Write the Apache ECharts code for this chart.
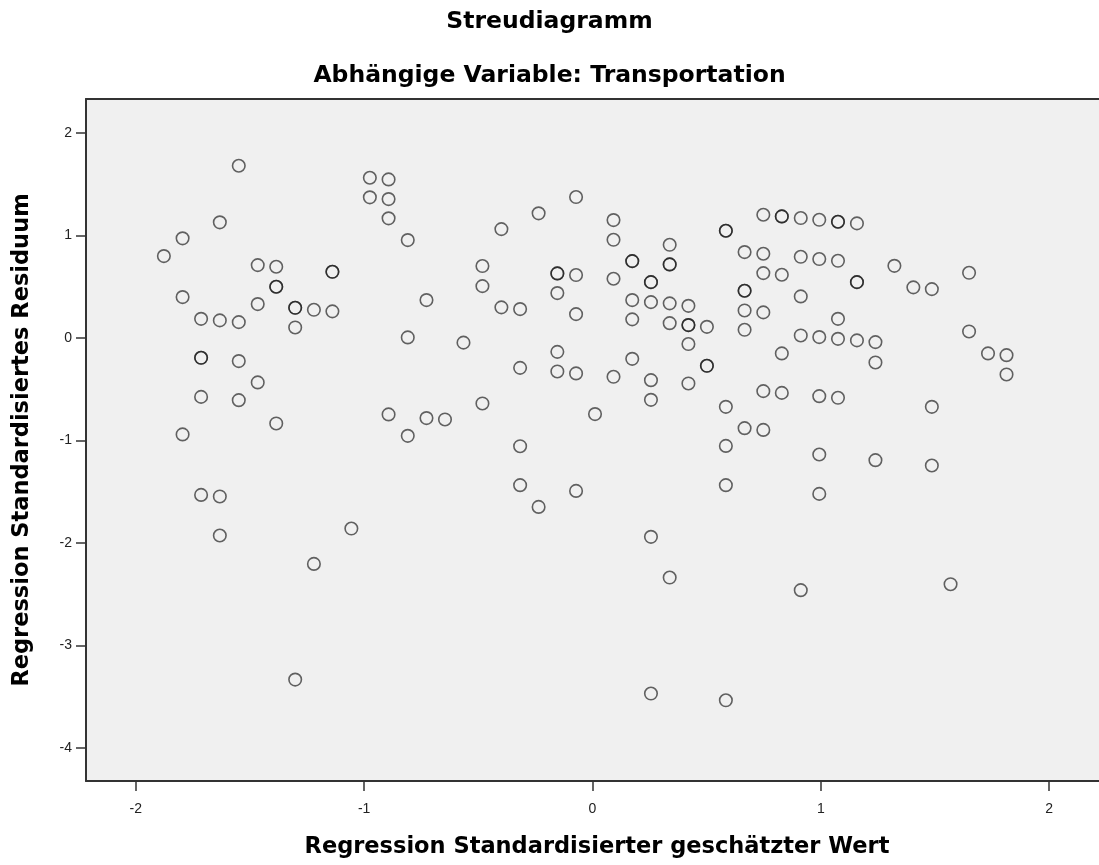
<!DOCTYPE html>
<html>
<head>
<meta charset="utf-8">
<script src="https://cdn.jsdelivr.net/npm/echarts@6/dist/echarts.min.js"></script>
<style>
  html, body { margin: 0; padding: 0; background: #ffffff; overflow: hidden; }
  #chart { width: 1099px; height: 865px; }
</style>
</head>
<body>
<div id="chart"></div>
<script>
// Data (standardized predicted value, standardized residual)
const predicted = [
  -1.549, -0.975, -0.893, -0.975, -0.893, -0.893, -0.809, -1.632, -1.795, -1.877,
  -1.466, -1.385, -1.139, -1.139, -1.385, -1.385, -1.795, -1.466, -1.302, -1.302,
  -1.220, -1.139, -1.714, -1.632, -1.549, -1.302, -0.809,
  -0.072, -0.236, -0.399, 0.092, 0.092, 0.584, 0.584, 0.338, 0.174, 0.174,
  0.338, 0.338, -0.482, -0.482, -0.154, -0.154, -0.072, 0.092, 0.256, 0.256,
  -0.154, -0.727, -0.399, -0.317, 0.174, 0.256, 0.338, 0.420, -0.072, 0.174,
  0.338, 0.420, 0.420, 0.501, 0.420, -0.565,
  0.748, 0.829, 0.829, 0.912, 0.993, 1.075, 1.075, 1.158, 0.666, 0.748,
  0.912, 0.993, 1.075, 1.322, 1.649, 0.748, 0.829, 0.666, 0.666, 1.158,
  1.158, 1.405, 1.486, 0.912, 0.666, 0.748, 1.075, 0.666, 0.912, 0.993,
  1.075, 1.158, 1.239, 1.649,
  -0.154, -0.317, -0.154, -0.072, 0.092, 0.174, 0.256, 0.256, 0.501, 0.501,
  0.420, 0.584, 0.584, 0.584, -0.482, -0.727, -0.646, 0.011, -0.317, -0.317,
  -0.236, -0.072, 0.256, 0.338,
  0.829, 1.239, 1.732, 1.813, 1.813, 0.748, 0.829, 0.993, 1.075, 1.486,
  0.666, 0.748, 0.993, 1.239, 1.486, 0.993, 0.912, 1.568,
  -1.714, -1.714, -1.549, -1.466, -1.714, -1.549, -1.385, -1.795, -0.893, -0.809,
  -1.714, -1.632, -1.632, -1.056, -1.220,
  -1.302, 0.256, 0.584
];
const residual = [
  1.678, 1.561, 1.545, 1.370, 1.353, 1.165, 0.953, 1.126, 0.970, 0.797,
  0.709, 0.693, 0.644, 0.644, 0.498, 0.498, 0.397, 0.329, 0.293, 0.293,
  0.273, 0.258, 0.185, 0.170, 0.153, 0.101, 0.004,
  1.373, 1.214, 1.060, 1.148, 0.956, 1.044, 1.044, 0.907, 0.748, 0.748,
  0.716, 0.716, 0.700, 0.504, 0.628, 0.628, 0.612, 0.576, 0.543, 0.543,
  0.436, 0.368, 0.297, 0.280, 0.368, 0.348, 0.336, 0.312, 0.231, 0.180,
  0.143, 0.124, 0.124, 0.107, -0.061, -0.047,
  1.200, 1.184, 1.184, 1.168, 1.151, 1.132, 1.132, 1.116, 0.836, 0.820,
  0.790, 0.768, 0.751, 0.702, 0.634, 0.631, 0.615, 0.459, 0.459, 0.543,
  0.543, 0.492, 0.475, 0.404, 0.267, 0.248, 0.185, 0.078, 0.023, 0.007,
  -0.010, -0.025, -0.042, 0.062,
  -0.137, -0.293, -0.328, -0.347, -0.380, -0.205, -0.413, -0.605, -0.273, -0.273,
  -0.445, -0.673, -1.054, -1.437, -0.640, -0.783, -0.796, -0.744, -1.057, -1.437,
  -1.649, -1.493, -1.941, -2.338,
  -0.152, -0.240, -0.152, -0.169, -0.357, -0.520, -0.537, -0.569, -0.585, -0.673,
  -0.881, -0.898, -1.138, -1.193, -1.245, -1.522, -2.461, -2.403,
  -0.195, -0.195, -0.227, -0.435, -0.576, -0.608, -0.835, -0.942, -0.747, -0.956,
  -1.532, -1.547, -1.928, -1.860, -2.205,
  -3.333, -3.469, -3.535
];
const xTicks = [-2, -1, 0, 1, 2];
const yTicks = [-4, -3, -2, -1, 0, 1, 2];
const mainTitle = 'Streudiagramm';
const subTitle = 'Abhängige Variable: Transportation';
const xTitle = 'Regression Standardisierter geschätzter Wert';
const yTitle = 'Regression Standardisiertes Residuum';

const points = predicted.map((x, i) => [x, residual[i]]);

const chart = echarts.init(document.getElementById('chart'), null, { renderer: 'canvas' });
const axisColor = '#333';
const labelStyle = { color: '#222', fontFamily: 'Liberation Sans, Arial, sans-serif', fontSize: 14 };
const titleFont = 'bold 23.5px "DejaVu Sans", sans-serif';

chart.setOption({
  backgroundColor: '#ffffff',
  animation: false,
  grid: { left: 86, top: 99, width: 1017, height: 682, show: true, backgroundColor: '#f0f0f0', borderWidth: 0 },
  xAxis: [
    {
      type: 'value', min: -2.218, max: 2.218, position: 'bottom',
      axisLine: { show: true, onZero: false, lineStyle: { color: axisColor, width: 2 } },
      axisTick: { show: true, length: 10, customValues: xTicks, lineStyle: { color: axisColor, width: 1.5 } },
      axisLabel: { show: true, margin: 21, customValues: xTicks, ...labelStyle },
      splitLine: { show: false }
    },
    {
      type: 'value', min: -2.218, max: 2.218, position: 'top',
      axisLine: { show: true, onZero: false, lineStyle: { color: axisColor, width: 2 } },
      axisTick: { show: false }, axisLabel: { show: false }, splitLine: { show: false }
    }
  ],
  yAxis: {
    type: 'value', min: -4.322, max: 2.329,
    axisLine: { show: true, onZero: false, lineStyle: { color: axisColor, width: 2 } },
    axisTick: { show: true, length: 10, customValues: yTicks, lineStyle: { color: axisColor, width: 1.5 } },
    axisLabel: { show: true, margin: 14, customValues: yTicks, ...labelStyle },
    splitLine: { show: false }
  },
  graphic: [
    { type: 'text', x: 549.5, y: 22,
      style: { text: mainTitle, fill: '#000', font: titleFont, textAlign: 'center', textVerticalAlign: 'middle' } },
    { type: 'text', x: 549.5, y: 76,
      style: { text: subTitle, fill: '#000', font: titleFont, textAlign: 'center', textVerticalAlign: 'middle' } },
    { type: 'text', x: 597, y: 847,
      style: { text: xTitle, fill: '#000', font: 'bold 22.5px "DejaVu Sans", sans-serif', textAlign: 'center', textVerticalAlign: 'middle' } },
    { type: 'text', x: 22, y: 440, rotation: Math.PI / 2,
      style: { text: yTitle, fill: '#000', font: 'bold 22.5px "DejaVu Sans", sans-serif', textAlign: 'center', textVerticalAlign: 'middle' } }
  ],
  series: [{
    type: 'scatter',
    xAxisIndex: 0,
    data: points,
    symbol: 'circle',
    symbolSize: 12.5,
    itemStyle: { color: 'rgba(0,0,0,0)', borderColor: 'rgba(20,20,20,0.82)', borderWidth: 1.6 },
    emphasis: { disabled: true }
  }]
});
</script>
</body>
</html>
